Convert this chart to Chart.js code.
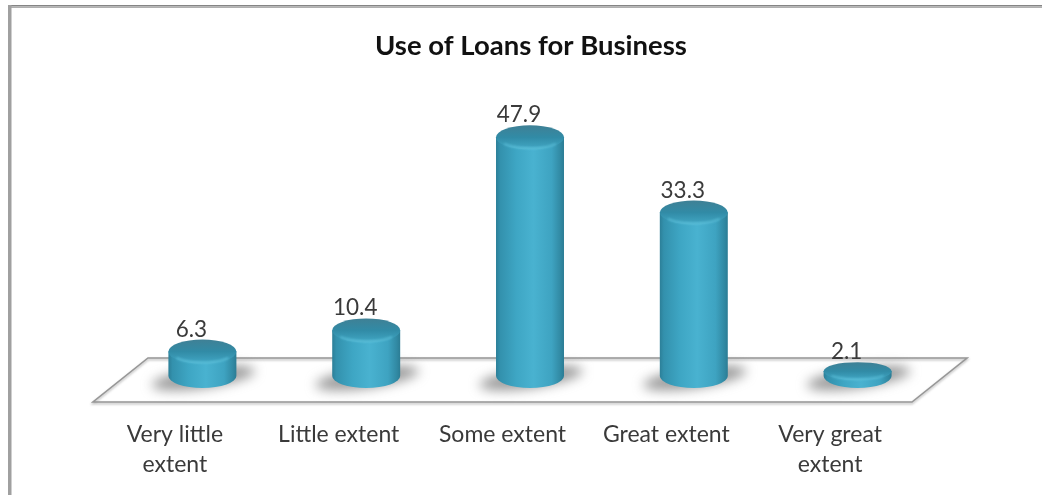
<!DOCTYPE html>
<html>
<head>
<meta charset="utf-8">
<title>Use of Loans for Business</title>
<script src="https://cdn.jsdelivr.net/npm/chart.js@4/dist/chart.umd.min.js"></script>
<style>
  html, body { margin: 0; padding: 0; background: #fff; overflow: hidden; }
  canvas { display: block; }
</style>
</head>
<body>
<canvas id="chart" width="1042" height="495"></canvas>
<script>
const categories = [['Very little', 'extent'], 'Little extent', 'Some extent', 'Great extent', ['Very great', 'extent']];
const values = [6.3, 10.4, 47.9, 33.3, 2.1];
const chartTitle = 'Use of Loans for Business';

const FONT = 'Lato, "Open Sans", sans-serif';
const TEXT = '#3a3a3a';

// Oblique projection of the floor: the bars stand halfway back on it.
const DEPTH_X = 55;
const DEPTH_Y = 44;
const TOP_LIFT = 18;
const BASE_LIFT = 26;
const CAP_RY = 12;

function cylinderGeometry(bar) {
  const cx = bar.x + DEPTH_X / 2;
  const rx = bar.width / 2;
  const baseY = bar.base - BASE_LIFT;
  const topY = bar.y - TOP_LIFT;
  // A very short bar is seen flatter, so its cap narrows and rises slightly.
  const short = baseY - topY < 12;
  return { cx, rx, baseY, topY: short ? topY - 2 : topY, capRy: short ? 9 : CAP_RY };
}

const framePlugin = {
  id: 'frame',
  beforeDraw(chart) {
    const ctx = chart.ctx;
    ctx.save();
    ctx.fillStyle = '#858585';
    ctx.fillRect(8, 5, chart.width - 8, 1.5);
    ctx.fillStyle = '#b0b0b0';
    ctx.fillRect(8, 6.5, chart.width - 8, 1.5);
    ctx.fillStyle = '#a0a0a0';
    ctx.fillRect(8, 5, 3.5, chart.height - 5);
    ctx.restore();
  },
  afterLayout(chart) {
    // The heading sits centred over the floor including its receding depth.
    const block = chart.titleBlock;
    block.left += 28.5;
    block.right += 28.5;
  }
};

const floorPlugin = {
  id: 'floor',
  beforeDatasetsDraw(chart) {
    const { ctx, chartArea: a } = chart;
    ctx.save();
    const outline = () => {
      ctx.beginPath();
      ctx.moveTo(a.left, a.bottom);
      ctx.lineTo(a.right, a.bottom);
      ctx.lineTo(a.right + DEPTH_X, a.bottom - DEPTH_Y);
      ctx.lineTo(a.left + DEPTH_X, a.bottom - DEPTH_Y);
      ctx.closePath();
    };
    ctx.lineJoin = 'miter';
    ctx.save();
    ctx.translate(0, 1.5);
    ctx.filter = 'blur(1px)';
    outline();
    ctx.strokeStyle = 'rgba(170,170,170,0.7)';
    ctx.lineWidth = 2;
    ctx.stroke();
    ctx.restore();
    outline();
    ctx.strokeStyle = '#979797';
    ctx.lineWidth = 1.6;
    ctx.stroke();

    // Soft cast shadow lying on the floor under each bar.
    chart.getDatasetMeta(0).data.forEach(bar => {
      const g = cylinderGeometry(bar);
      ctx.save();
      ctx.filter = 'blur(6px)';
      ctx.fillStyle = 'rgba(115,115,115,0.72)';
      ctx.beginPath();
      ctx.ellipse(g.cx + 1, g.baseY + 2, g.rx + 18, 10, -0.14, 0, Math.PI * 2);
      ctx.fill();
      ctx.restore();
    });
    ctx.restore();
  }
};

const cylinderPlugin = {
  id: 'cylinders',
  afterDatasetsDraw(chart) {
    const ctx = chart.ctx;
    chart.getDatasetMeta(0).data.forEach((bar, i) => {
      const { cx, rx, baseY, topY, capRy } = cylinderGeometry(bar);
      const left = cx - rx;
      const right = cx + rx;

      const side = ctx.createLinearGradient(left, 0, right, 0);
      side.addColorStop(0, '#2c7f98');
      side.addColorStop(0.06, '#3391ad');
      side.addColorStop(0.3, '#3ea6c4');
      side.addColorStop(0.55, '#49b2d0');
      side.addColorStop(0.82, '#3ea3c1');
      side.addColorStop(0.95, '#3189a3');
      side.addColorStop(1, '#2b7c94');

      ctx.save();
      ctx.beginPath();
      ctx.moveTo(left, topY);
      ctx.lineTo(left, baseY);
      ctx.ellipse(cx, baseY, rx, CAP_RY, 0, Math.PI, 0, true);
      ctx.lineTo(right, topY);
      ctx.closePath();
      ctx.fillStyle = side;
      ctx.fill();

      const cap = ctx.createLinearGradient(0, topY - capRy, 0, topY + capRy);
      cap.addColorStop(0, '#3f8095');
      cap.addColorStop(0.5, '#318ba6');
      cap.addColorStop(0.85, '#3d9fbc');
      cap.addColorStop(1, '#4eb3cf');
      ctx.beginPath();
      ctx.ellipse(cx, topY, rx, capRy, 0, 0, Math.PI * 2);
      ctx.fillStyle = cap;
      ctx.fill();

      // Soft highlight along the front rim of the cap.
      ctx.save();
      ctx.filter = 'blur(1px)';
      ctx.beginPath();
      ctx.ellipse(cx, topY, rx - 2, capRy - 1, 0, 0.2 * Math.PI, 0.8 * Math.PI);
      ctx.strokeStyle = 'rgba(100,200,225,0.6)';
      ctx.lineWidth = 2;
      ctx.stroke();
      ctx.restore();

      // Value above the cap, set back toward the front of the floor.
      ctx.font = '22.5px ' + FONT;
      ctx.fillStyle = TEXT;
      ctx.textAlign = 'center';
      ctx.textBaseline = 'alphabetic';
      ctx.fillText(values[i].toFixed(1), cx - 11, topY - capRy - 3);
      ctx.restore();
    });
  }
};

new Chart(document.getElementById('chart'), {
  type: 'bar',
  data: {
    labels: categories,
    datasets: [{
      data: values,
      backgroundColor: 'transparent',
      borderWidth: 0,
      barPercentage: 0.415,
      categoryPercentage: 1
    }]
  },
  options: {
    responsive: false,
    animation: false,
    layout: { autoPadding: false, padding: { left: 93, right: 130, top: 0, bottom: 0 } },
    scales: {
      x: {
        grid: { display: false },
        border: { display: false },
        afterFit(scale) { scale.height = 93; },
        ticks: {
          autoSkip: false,
          maxRotation: 0,
          minRotation: 0,
          padding: 10,
          color: TEXT,
          font: { family: FONT, size: 23, lineHeight: 1.3 }
        }
      },
      y: { display: false, min: 0, max: 60 }
    },
    plugins: {
      legend: { display: false },
      tooltip: { enabled: false },
      title: {
        display: true,
        text: chartTitle,
        color: '#111',
        font: { family: FONT, size: 27.5, weight: 'bold', lineHeight: 1.2 },
        padding: { top: 29.5, bottom: 30.5 }
      }
    }
  },
  plugins: [framePlugin, floorPlugin, cylinderPlugin]
});
</script>
</body>
</html>
